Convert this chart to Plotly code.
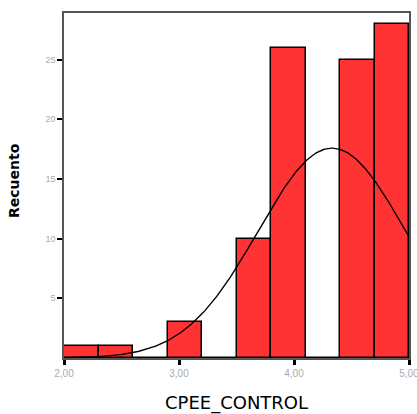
import numpy as np
import plotly.graph_objects as go

# Histogram of CPEE_CONTROL: bin edges and counts per bin
bin_edges = [2.0, 2.3, 2.6, 2.9, 3.2, 3.5, 3.8, 4.1, 4.4, 4.7, 5.0]
counts = [1, 1, 0, 3, 0, 10, 26, 0, 25, 28]

# Normal curve parameters (fitted to the sample)
curve_mean = 4.33
curve_sd = 0.64
n_total = sum(counts)

x_ticks = [2, 3, 4, 5]
x_tick_labels = ["2,00", "3,00", "4,00", "5,00"]
y_ticks = [5, 10, 15, 20, 25]

centers = [(a + b) / 2 for a, b in zip(bin_edges[:-1], bin_edges[1:])]
widths = [b - a for a, b in zip(bin_edges[:-1], bin_edges[1:])]
bin_w = widths[0]

fig = go.Figure()
fig.add_trace(go.Bar(
    x=centers, y=counts, width=widths,
    marker=dict(color="#FF3333", line=dict(color="black", width=1.5)),
    hoverinfo="x+y",
))

xs = np.linspace(bin_edges[0], bin_edges[-1], 300)
ys = n_total * bin_w / (curve_sd * np.sqrt(2 * np.pi)) * np.exp(-0.5 * ((xs - curve_mean) / curve_sd) ** 2)
fig.add_trace(go.Scatter(x=xs, y=ys, mode="lines",
                         line=dict(color="black", width=1.4), hoverinfo="skip"))

fig.update_layout(
    width=417, height=414,
    margin=dict(l=64, r=8, t=13, b=56),
    paper_bgcolor="white", plot_bgcolor="white",
    showlegend=False, bargap=0,
    font=dict(family="Liberation Sans, Arial, sans-serif"),
    annotations=[
        dict(text="CPEE_CONTROL", xref="paper", yref="paper", x=0.5, y=-0.13,
             xanchor="center", yanchor="middle", showarrow=False,
             font=dict(family="DejaVu Sans", size=18, color="black")),
        dict(text="<b>Recuento</b>", xref="paper", yref="paper", x=-0.145, y=0.516,
             xanchor="center", yanchor="middle", showarrow=False, textangle=-90,
             font=dict(family="DejaVu Sans", size=14, color="black")),
    ],
)
fig.update_xaxes(
    range=[2, 5], tickvals=x_ticks, ticktext=x_tick_labels,
    automargin=False, ticklabeloverflow="allow",
    showgrid=False, zeroline=False,
    showline=True, linecolor="#555", linewidth=1.5, mirror=True,
    ticks="outside", ticklen=5, tickwidth=3, tickcolor="black",
    tickfont=dict(size=10, color="#aaa"),
)
fig.update_yaxes(
    range=[0, 28.9], tickvals=y_ticks,
    automargin=False,
    showgrid=False, zeroline=False,
    showline=True, linecolor="#555", linewidth=1.5, mirror=True,
    ticks="outside", ticklen=5, tickwidth=2, tickcolor="black",
    tickfont=dict(size=9, color="#aaa"),
)

fig.write_html("out.html")
